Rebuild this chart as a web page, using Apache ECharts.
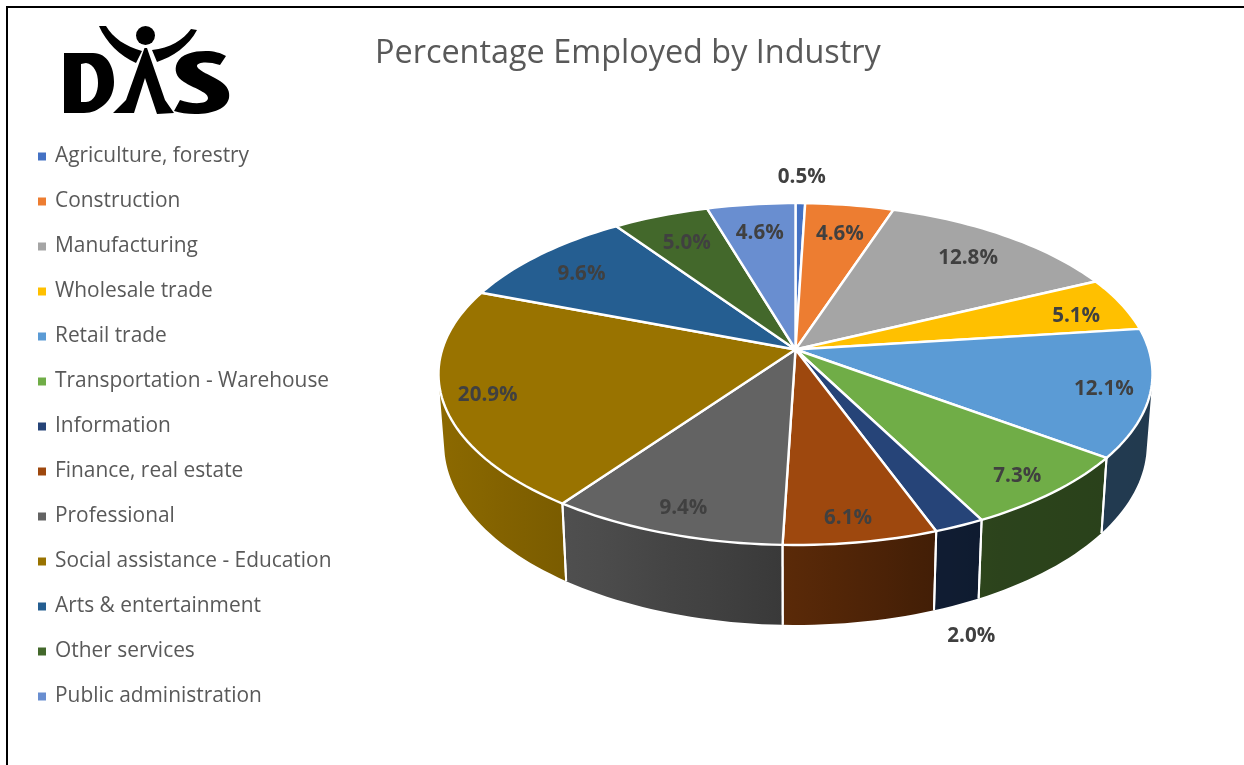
<!DOCTYPE html>
<html>
<head>
<meta charset="utf-8">
<title>Percentage Employed by Industry</title>
<style>html,body{margin:0;padding:0;background:#fff}#chart{width:1244px;height:765px}</style>
<script src="https://cdn.jsdelivr.net/npm/echarts@6/dist/echarts.min.js"></script>
</head>
<body>
<div id="chart"></div>
<script>
// Share of employment per industry, in percent, clockwise from 12 o'clock.
const industries = [
  'Agriculture, forestry', 'Construction', 'Manufacturing', 'Wholesale trade',
  'Retail trade', 'Transportation - Warehouse', 'Information', 'Finance, real estate',
  'Professional', 'Social assistance - Education', 'Arts & entertainment',
  'Other services', 'Public administration'
];
const shares = [0.5, 4.6, 12.8, 5.1, 12.1, 7.3, 2.0, 6.1, 9.4, 20.9, 9.6, 5.0, 4.6];
const sliceColors = [
  '#4472C4', '#ED7D31', '#A5A5A5', '#FFC000', '#5B9BD5', '#70AD47', '#264478',
  '#9E480E', '#636363', '#997300', '#255E91', '#43682B', '#698ED0'
];
// Label placement on the disc: radius as a fraction of the disc radius, plus an angle nudge in degrees.
const labelRadius = [1.217, 0.789, 0.80, 0.846, 0.872, 0.88, 1.424, 0.884, 0.875, 0.878, 0.816, 0.79, 0.793];
const labelNudge = [0, 0, 0, 1.5, 0, 0.5, 7.5, 0.8, 0, 0, -1, 0, 0];

// Perspective projection of the unit disc onto the page.
const CX = 795.5, CY = 349.5, AX = 353.3, AY = 167.4, PERSP = 0.1437;
const WALL = 75, WALL_SLOPE = 0.057, WALL_SHRINK = 0.984;
const LABEL_DROP = 1.5;

function project(deg, r) {
  const a = deg * Math.PI / 180;
  const X = r * Math.sin(a), Y = -r * Math.cos(a);
  const w = 1 - PERSP * Y;
  return [CX + AX * X / w, CY + AY * Y / w];
}
function lower(p) {
  return [CX + (p[0] - CX) * WALL_SHRINK, p[1] + WALL + (p[1] - 458) * WALL_SLOPE];
}
function arc(from, to) {
  const n = Math.max(2, Math.ceil(Math.abs(to - from) / 1.5));
  const pts = [];
  for (let i = 0; i <= n; i++) pts.push(project(from + (to - from) * i / n, 1));
  return pts;
}
// Brightness of the outer wall depends on its horizontal position.
const wallStops = [[430, 0.92], [565, 0.80], [780, 0.58], [935, 0.42], [1000, 0.39], [1160, 0.37]];
function wallFactor(x) {
  if (x <= wallStops[0][0]) return wallStops[0][1];
  for (let i = 1; i < wallStops.length; i++) {
    if (x <= wallStops[i][0]) {
      const p = wallStops[i - 1], q = wallStops[i];
      return p[1] + (q[1] - p[1]) * (x - p[0]) / (q[0] - p[0]);
    }
  }
  return wallStops[wallStops.length - 1][1];
}
function shade(hex, f) {
  const n = parseInt(hex.slice(1), 16);
  return 'rgb(' + [(n >> 16) & 255, (n >> 8) & 255, n & 255].map(v => Math.round(v * f)).join(',') + ')';
}
// One closed subpath for a wall facet, always wound the same way so the union fills without seams.
function facetPath(a, b, c, d) {
  const q = [a, b, c, d];
  let area = 0;
  for (let i = 0; i < 4; i++) {
    const p = q[i], n = q[(i + 1) % 4];
    area += p[0] * n[1] - n[0] * p[1];
  }
  if (area < 0) q.reverse();
  return 'M' + q.map(p => p[0].toFixed(2) + ' ' + p[1].toFixed(2)).join('L') + 'Z';
}

function sliceRenderer(index) {
  return function (params, api) {
    const start = api.value(0), share = api.value(1);
    const from = start * 3.6, to = (start + share) * 3.6;
    const rim = arc(from, to);
    const base = rim.map(lower);
    const xs = rim.concat(base).map(p => p[0]);
    const x0 = Math.min.apply(null, xs), x1 = Math.max.apply(null, xs);
    const stops = [];
    for (let i = 0; i <= 6; i++) {
      stops.push({ offset: i / 6, color: shade(sliceColors[index], wallFactor(x0 + (x1 - x0) * i / 6)) });
    }
    // The wall is swept from the rim down to the base.
    let wallPath = '';
    for (let i = 0; i + 1 < rim.length; i++) {
      wallPath += facetPath(rim[i], rim[i + 1], base[i + 1], base[i]);
    }
    const children = [{
      type: 'path', z2: 1, shape: { pathData: wallPath },
      style: { fill: new echarts.graphic.LinearGradient(x0, 0, x1, 0, stops, true) }
    }];
    [0, rim.length - 1].forEach(i => {
      children.push({
        type: 'line', z2: 2,
        shape: { x1: rim[i][0], y1: rim[i][1], x2: base[i][0], y2: base[i][1] },
        style: { stroke: '#fff', lineWidth: 2 }
      });
    });
    children.push({
      type: 'polygon', z2: 10, shape: { points: [[CX, CY]].concat(rim) },
      style: { fill: sliceColors[index], stroke: '#fff', lineWidth: 2.4, lineJoin: 'round' }
    });
    const mid = (from + to) / 2 + labelNudge[index];
    const at = project(mid, labelRadius[index]);
    children.push({
      type: 'text', z2: 20, x: at[0] + 0.5, y: at[1] + LABEL_DROP,
      style: {
        text: share.toFixed(1) + '%', align: 'center', verticalAlign: 'middle',
        fill: '#404040', font: 'bold 20.6px "Open Sans"'
      }
    });
    return { type: 'group', children: children };
  };
}

let running = 0;
const series = industries.map((name, i) => {
  const item = [running, shares[i]];
  running += shares[i];
  return {
    type: 'custom', name: name, coordinateSystem: 'none',
    renderItem: sliceRenderer(i), data: [item], animation: false
  };
});

// Logo artwork: letters and the raised-arms figure.
const logoPaths = [
  // D
  'M64 53 L93 53 C108 53 114 68 114 82 C114 92 110 100 104 105 C98 110 92 113 84 113 L64 113 Z' +
  'M81 64 L81 102 L86 102 C94 102 98 92 98 83 C98 73 94 64 86 63 Z',
  // body and legs
  'M144.5 48 L147 48 L165 100 L174 113 L157 114 L145 78 L134 113 L113 113 L126 100 Z',
  // arms
  'M99 26 L106 26 C113 38 125 46 142 51 L136 63 C120 56 106 42 99 26 Z',
  'M152 50 C170 48 183 40 191 29 L197 30 C189 46 172 57 157 62 Z',
  // S
  'M226 56 L220 65 C208 61 197 62 197 66 C197 70 212 76 220 81 C228 86 230 92 229 98 C227 108 214 114 195 114 C187 114 180 113 174 111 L180 100 C190 104 208 105 208 98 C208 92 193 88 184 82 C176 77 174 70 177 63 C181 54 193 51 206 51 C214 51 221 53 226 56 Z'
];
series.push({
  type: 'custom', name: 'DIS logo', coordinateSystem: 'none', silent: true, animation: false,
  data: [[0]],
  renderItem: function () {
    return {
      type: 'group',
      children: logoPaths.map(d => ({
        type: 'path', shape: { pathData: d }, style: { fill: '#000' }
      })).concat([
        { type: 'circle', shape: { cx: 145.5, cy: 35.5, r: 9.5 }, style: { fill: '#000' } }
      ])
    };
  }
});

const chart = echarts.init(document.getElementById('chart'), null, { renderer: 'canvas' });
chart.setOption({
  animation: false,
  backgroundColor: '#fff',
  color: sliceColors,
  title: {
    text: 'Percentage Employed by Industry', left: 370, top: 33,
    textStyle: { fontFamily: 'Open Sans', fontSize: 32.4, fontWeight: 'normal', color: '#595959' }
  },
  legend: {
    orient: 'vertical', left: 33, top: 138, icon: 'rect', itemWidth: 8, itemHeight: 8,
    itemGap: 18, selectedMode: false,
    data: industries,
    textStyle: { fontFamily: 'Open Sans', fontSize: 20.9, color: '#595959', lineHeight: 27, height: 27, padding: [0, 0, 0, 4] }
  },
  graphic: [
    { type: 'rect', silent: true, shape: { x: 6, y: 6, width: 2, height: 759 }, style: { fill: '#000' } },
    { type: 'rect', silent: true, shape: { x: 6, y: 6, width: 1238, height: 2 }, style: { fill: '#000' } }
  ],
  series: series
});
</script>
</body>
</html>
